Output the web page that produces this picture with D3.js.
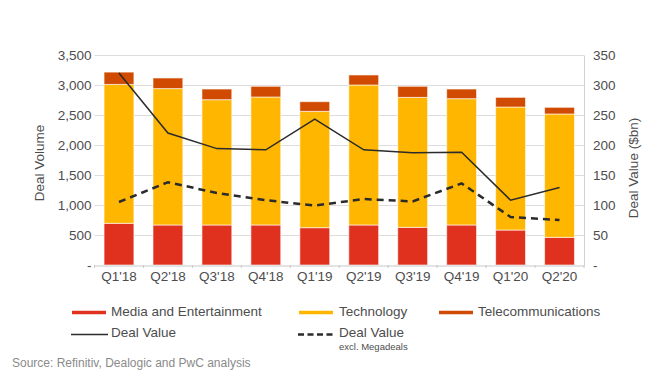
<!DOCTYPE html>
<html><head><meta charset="utf-8">
<script src="https://cdn.jsdelivr.net/npm/d3@7"></script>
<style>body{margin:0;background:#fff;}svg{display:block;font-family:"Liberation Sans",Arial,Helvetica,sans-serif;}</style>
</head><body><svg id="c" width="670" height="377"></svg>
<script>
const categories = ["Q1'18","Q2'18","Q3'18","Q4'18","Q1'19","Q2'19","Q3'19","Q4'19","Q1'20","Q2'20"];
const media = [695, 667, 667, 667, 622, 667, 628, 667, 583, 461];
const technology = [2315, 2273, 2088, 2133, 1939, 2333, 2166, 2105, 2050, 2056];
const telecom = [205, 177, 178, 178, 161, 167, 184, 161, 161, 111];
const dealValue = [320, 220, 194, 192, 243, 192, 187, 188, 108, 129];
const dealValueExcl = [105, 138, 120, 108, 99, 110, 106, 136, 80, 75];
const leftTicks = [0, 500, 1000, 1500, 2000, 2500, 3000, 3500];
const rightTicks = [0, 50, 100, 150, 200, 250, 300, 350];
const seriesNames = ["Media and Entertainment", "Technology", "Telecommunications"];
const colors = ["#E0301E", "#FFB600", "#D04A02"];

const svg = d3.select("#c");
const L = 94.5, R = 584, T = 55, B = 265;
const x = d3.scaleBand().domain(categories).range([L, R]).paddingInner(0.39).paddingOuter(0.195);
const y = d3.scaleLinear().domain([0, 3500]).range([B, T]);
const y2 = d3.scaleLinear().domain([0, 350]).range([B, T]);
const txt = "#4d4d4d";
const fmt = d => d === 0 ? "-" : d3.format(",")(d);

// gridlines
svg.append("g").selectAll("line").data(leftTicks.filter(d => d > 0)).join("line")
  .attr("x1", L).attr("x2", R).attr("y1", d => y(d) + 0.5).attr("y2", d => y(d) + 0.5)
  .attr("stroke", "#dcdcdc").attr("stroke-width", 1);

// stacked bars
const rows = categories.map((c, i) => ({cat: c, m: media[i], t: technology[i], e: telecom[i]}));
const stack = d3.stack().keys(["m", "t", "e"])(rows);
svg.append("g").selectAll("g").data(stack).join("g").attr("fill", (d, i) => colors[i])
  .selectAll("rect").data(d => d).join("rect")
  .attr("x", d => x(d.data.cat)).attr("width", x.bandwidth())
  .attr("y", d => y(d[1])).attr("height", d => y(d[0]) - y(d[1]))
  .attr("stroke", "rgba(255,255,255,0.6)").attr("stroke-width", 1);

// left axis
const ax = svg.append("g").attr("transform", `translate(${L - 3},0)`)
  .call(d3.axisLeft(y).tickValues(leftTicks).tickFormat(fmt).tickSize(0).tickPadding(0));
ax.select(".domain").remove();
ax.selectAll("text").attr("font-size", 13.5).attr("fill", txt).attr("font-family", "Liberation Sans,Arial,sans-serif");

// right axis
const ax2 = svg.append("g").attr("transform", `translate(${R},0)`)
  .call(d3.axisRight(y2).tickValues(rightTicks).tickFormat(d => d === 0 ? "-" : d).tickSize(0).tickPadding(9));
ax2.select(".domain").attr("stroke", "#d0d0d0");
ax2.selectAll("text").attr("font-size", 13.5).attr("fill", txt).attr("font-family", "Liberation Sans,Arial,sans-serif");

// x axis
const ax3 = svg.append("g").attr("transform", `translate(0,${B + 0.5})`)
  .call(d3.axisBottom(x).tickSize(0).tickPadding(6));
ax3.select(".domain").attr("stroke", "#c8c8c8");
ax3.selectAll("text").attr("font-size", 13.5).attr("fill", txt).attr("font-family", "Liberation Sans,Arial,sans-serif");
const step = x.step();
svg.append("g").selectAll("line").data(d3.range(categories.length + 1)).join("line")
  .attr("x1", i => L + i * step).attr("x2", i => L + i * step)
  .attr("y1", B).attr("y2", B + 3).attr("stroke", "#c8c8c8");

// lines
const line = d3.line().x((d, i) => x(categories[i]) + x.bandwidth() / 2).y(d => y2(d));
svg.append("path").datum(dealValue).attr("d", line).attr("fill", "none")
  .attr("stroke", "#2b2b2b").attr("stroke-width", 1.5);
svg.append("path").datum(dealValueExcl).attr("d", line).attr("fill", "none")
  .attr("stroke", "#2b2b2b").attr("stroke-width", 2.5).attr("stroke-dasharray", "7,5");

// axis titles
svg.append("text").attr("transform", "translate(44,163) rotate(-90)").attr("text-anchor", "middle")
  .attr("font-size", 13.5).attr("fill", txt).text("Deal Volume");
svg.append("text").attr("transform", "translate(638,168) rotate(-90)").attr("text-anchor", "middle")
  .attr("font-size", 13.5).attr("fill", txt).text("Deal Value ($bn)");

// legend
const lg = svg.append("g").attr("font-size", 13.5).attr("fill", txt);
const legCols = [[72, 111], [299, 339], [439, 478]];
seriesNames.forEach((n, i) => {
  lg.append("line").attr("x1", legCols[i][0]).attr("x2", legCols[i][0] + 34).attr("y1", 312.5).attr("y2", 312.5)
    .attr("stroke", colors[i]).attr("stroke-width", 3.5);
  lg.append("text").attr("x", legCols[i][1]).attr("y", 316).text(n);
});
lg.append("line").attr("x1", 71).attr("x2", 108).attr("y1", 334.5).attr("y2", 334.5)
  .attr("stroke", "#2b2b2b").attr("stroke-width", 1.5);
lg.append("text").attr("x", 111).attr("y", 337).text("Deal Value");
lg.append("line").attr("x1", 298).attr("x2", 335).attr("y1", 334.5).attr("y2", 334.5)
  .attr("stroke", "#2b2b2b").attr("stroke-width", 2.5).attr("stroke-dasharray", "6,3.5");
lg.append("text").attr("x", 339).attr("y", 336.5).text("Deal Value");
lg.append("text").attr("x", 339).attr("y", 349.5).attr("font-size", 9.5).text("excl. Megadeals");

svg.append("text").attr("x", 12).attr("y", 367).attr("font-size", 12).attr("fill", "#8a8a8a")
  .text("Source: Refinitiv, Dealogic and PwC analysis");
</script></body></html>
